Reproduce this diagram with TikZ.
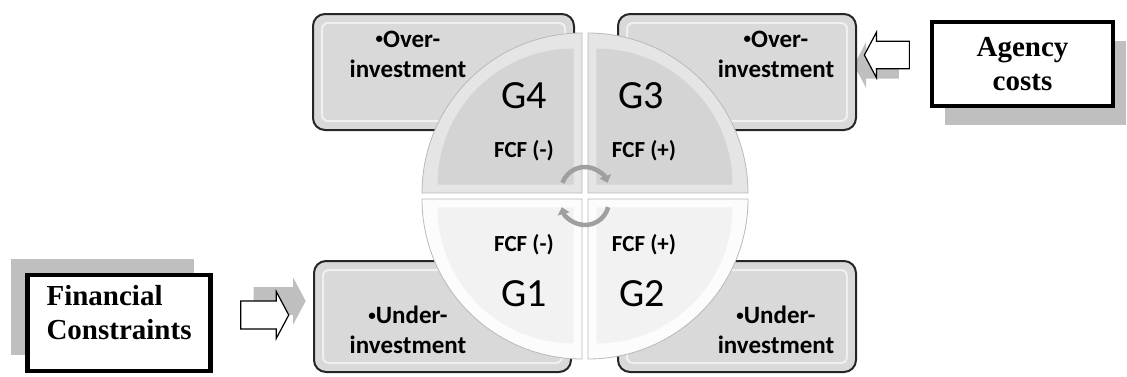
\documentclass[tikz,border=0pt]{standalone}
\usepackage{fontspec}
\setmainfont{Carlito}
\newfontfamily\tnr{Liberation Serif}
\usetikzlibrary{shapes.arrows,shadows,arrows.meta,calc}
\newcommand{\smallbul}{\raisebox{0.28ex}{\fontsize{15}{15}\selectfont•}}

\begin{document}
\begin{tikzpicture}[x=1pt,y=1pt,
  outerbox/.style={draw=black!85,line width=2pt,rounded corners=12pt,fill=gray!30,
    path picture={\draw[gray!12,line width=2pt,rounded corners=6pt]
      ($(path picture bounding box.south west)+(9,9)$) rectangle
      ($(path picture bounding box.north east)+(-9,-9)$);}},
  srcbox/.style={draw=black,line width=4.5pt,fill=white,align=center,
    font=\tnr\bfseries\fontsize{29}{34}\selectfont},
  boxlabel/.style={align=center,font=\bfseries\fontsize{25}{30}\selectfont},
  grouplabel/.style={font=\fontsize{40}{40}\selectfont},
  fcflabel/.style={font=\bfseries\fontsize{23}{23}\selectfont},
  blockarrow/.style={single arrow,inner xsep=0pt,inner ysep=10pt,
    single arrow tip angle=124,single arrow head indent=0pt},
  arrowshadow/.style={blockarrow,fill=gray!50},
  rotarc/.style={draw=gray!75,line width=4.5pt,-{Triangle[width=12pt,length=7pt]}}]
\useasboundingbox (0,0) rectangle (1127,376);

\node[arrowshadow,minimum height=52pt,minimum width=47pt] (fashadow) at (276,75) {};
\node[arrowshadow,shape border rotate=180,minimum height=45pt,minimum width=46pt] (aashadow) at (880,311) {};

\node[outerbox,minimum width=261pt,minimum height=116pt] (box4) at (443.5,304) {};
\node[outerbox,minimum width=238pt,minimum height=116pt] (box3) at (737,304) {};
\node[outerbox,minimum width=257pt,minimum height=111pt] (box1) at (442.5,59.5) {};
\node[outerbox,minimum width=238pt,minimum height=111pt] (box2) at (737,59.5) {};

\foreach \cx/\cy/\s/\rim/\face in {582/183/90/gray!20/gray!34,588/183/0/gray!20/gray!34,
    582/177/180/gray!2/gray!10,588/177/270/gray!2/gray!10}{
  \filldraw[fill=\rim,draw=gray!55,line width=0.8pt] (\cx,\cy) -- ++(\s:160)
    arc[start angle=\s,delta angle=90,radius=160] -- cycle;
  \fill[\face] ($(\cx,\cy)+(\s+45:12)$) -- ++(\s:136)
    arc[start angle=\s,delta angle=90,radius=136] -- cycle;
}

\coordinate (hub) at (585,180);
\draw[rotarc] ($(hub)+(0,5)+(160:24)$) arc[start angle=160,end angle=20,radius=24];
\draw[rotarc] ($(hub)+(0,-5)+(-15:24)$) arc[start angle=-15,end angle=-165,radius=24];

\node[boxlabel] (ov4) at (408,322) {\smallbul Over-\\investment};
\node[boxlabel] (ov3) at (776,322) {\smallbul Over-\\investment};
\node[boxlabel] (un1) at (408,46) {\smallbul Under-\\investment};
\node[boxlabel] (un2) at (776,46) {\smallbul Under-\\investment};

\node[grouplabel] (g4) at (524,280) {G4};
\node[grouplabel] (g3) at (641,280) {G3};
\node[grouplabel] (g1) at (524,82) {G1};
\node[grouplabel] (g2) at (642,82) {G2};
\node[fcflabel] (f4) at (524,225) {FCF (-)};
\node[fcflabel] (f3) at (644,225) {FCF (+)};
\node[fcflabel] (f1) at (524,131) {FCF (-)};
\node[fcflabel] (f2) at (644,131) {FCF (+)};

\node[srcbox,minimum width=183pt,minimum height=96pt,
  drop shadow={shadow xshift=-17pt,shadow yshift=16pt,fill=gray!50,opacity=1}] (fc) at (119,53) {};
\node[font=\tnr\bfseries\fontsize{29}{34}\selectfont,align=left,anchor=west] (fctext) at (43,63)
  {Financial\\Constraints};
\node[srcbox,minimum width=181pt,minimum height=84pt,
  drop shadow={shadow xshift=13pt,shadow yshift=-19pt,fill=gray!50,opacity=1}] (ac) at (1022.5,312)
  {Agency\\costs};

\node[blockarrow,draw=black,line width=1.2pt,fill=white,minimum height=48pt,minimum width=47pt] (fa) at (261,61) {};
\node[blockarrow,shape border rotate=180,draw=black,line width=1.2pt,fill=white,
  minimum height=45pt,minimum width=46pt] (aa) at (890.5,321) {};
\end{tikzpicture}
\end{document}
